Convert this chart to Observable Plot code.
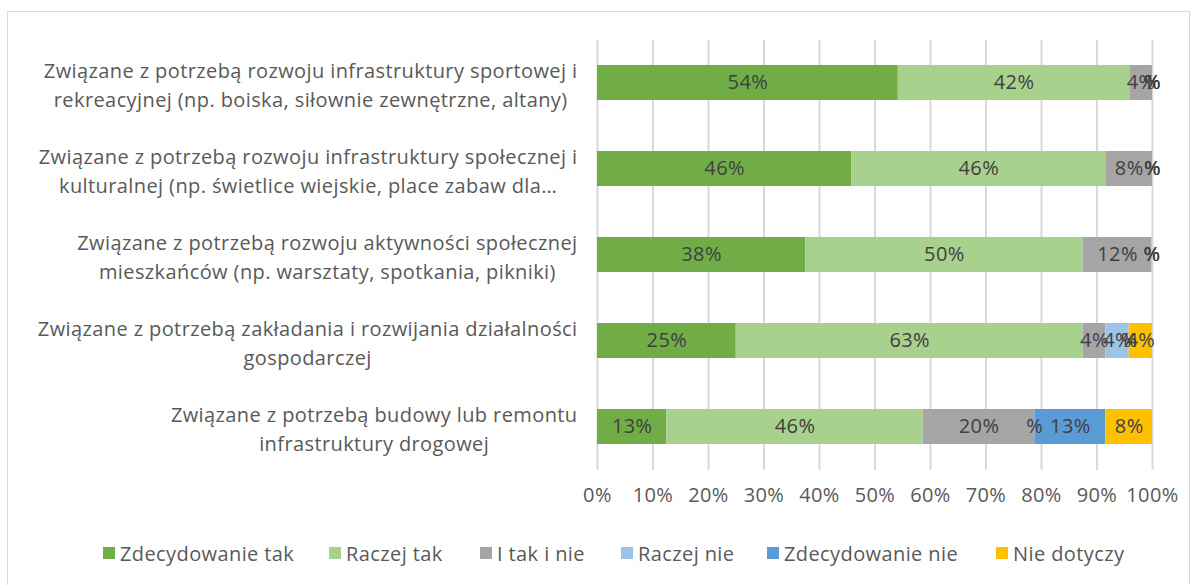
<!DOCTYPE html>
<html><head><meta charset="utf-8">
<script src="https://cdn.jsdelivr.net/npm/d3@7"></script>
<script src="https://cdn.jsdelivr.net/npm/@observablehq/plot@0.6"></script>
<style>
body{margin:0;background:#fff;font-family:"Open Sans",sans-serif;}
#frame{position:absolute;left:7px;top:11px;width:1183px;height:590px;border:1px solid #d9d9d9;box-sizing:border-box;}
#chart{position:absolute;left:0;top:0;}
#chart svg text{letter-spacing:0.4px;}
#legend{position:absolute;top:541px;left:0;width:1191px;height:24px;font-size:20px;letter-spacing:0.4px;color:#595959;white-space:nowrap;}
#legend .item{position:absolute;top:0;display:flex;align-items:center;height:24px;}
#legend .sw{width:12px;height:12px;margin-right:5px;}
</style></head>
<body>
<div id="frame"></div>
<div id="chart"></div>
<div id="legend"></div>
<script>
const categories = [
  "Związane z potrzebą rozwoju infrastruktury sportowej i\nrekreacyjnej (np. boiska, siłownie zewnętrzne, altany)",
  "Związane z potrzebą rozwoju infrastruktury społecznej i\nkulturalnej (np. świetlice wiejskie, place zabaw dla…",
  "Związane z potrzebą rozwoju aktywności społecznej\nmieszkańców (np. warsztaty, spotkania, pikniki)",
  "Związane z potrzebą zakładania i rozwijania działalności\ngospodarczej",
  "Związane z potrzebą budowy lub remontu\ninfrastruktury drogowej"
];
const series = ["Zdecydowanie tak","Raczej tak","I tak i nie","Raczej nie","Zdecydowanie nie","Nie dotyczy"];
const colors = ["#70AD47","#A9D18E","#A5A5A5","#9DC3E6","#5B9BD5","#FFC000"];
const zdecydowanieTak = [54.2, 45.8, 37.5, 25.0, 12.5];
const raczejTak       = [41.7, 45.8, 50.0, 62.5, 46.2];
const iTakINie        = [4.1, 8.4, 12.4, 4.1, 20.1];
const raczejNie       = [0, 0, 0, 4.2, 0];
const zdecydowanieNie = [0, 0, 0, 0, 12.8];
const nieDotyczy      = [0, 0, 0, 4.2, 8.4];
const xTicks = [0,10,20,30,40,50,60,70,80,90,100];

const seriesValues = [zdecydowanieTak, raczejTak, iTakINie, raczejNie, zdecydowanieNie, nieDotyczy];
const data = [];
series.forEach((s, si) => categories.forEach((c, ci) => data.push({series: s, category: c, value: seriesValues[si][ci]})));
const fmt = v => v > 0 ? Math.round(v) + "%" : "%";
const FONT = "'Open Sans',sans-serif";

const plot = Plot.plot({
  width: 1191, height: 520,
  marginLeft: 597, marginRight: 39, marginTop: 40, marginBottom: 50,
  style: {fontFamily: FONT, fontSize: "20px", color: "#595959", background: "transparent", overflow: "visible"},
  x: {domain: [0, 100], label: null},
  y: {domain: categories, paddingInner: 0.59, paddingOuter: 0.295, label: null},
  color: {domain: series, range: colors},
  marks: [
    Plot.gridX(xTicks, {stroke: "#d9d9d9", strokeOpacity: 1, strokeWidth: 2}),
    Plot.barX(data, Plot.stackX({x: "value", y: "category", fill: "series", z: "series"})),
    Plot.text(data, Plot.stackX({x: "value", y: "category", z: "series", text: d => fmt(d.value), fill: "#404040", fontSize: 20})),
    Plot.axisX(xTicks, {tickSize: 0, tickPadding: 17, tickFormat: d => d + "%", fontSize: 20, fill: "#595959", label: null}),
    Plot.axisY({tickSize: 0, tickPadding: 20, fontSize: 20, fill: "#595959", lineHeight: 1.45, label: null})
  ]
});
document.getElementById("chart").appendChild(plot);

// center the lines of each multi-line category label within its right-aligned block
d3.select(plot).selectAll('g[aria-label="y-axis tick label"] text').each(function() {
  const tspans = this.querySelectorAll("tspan");
  if (!tspans.length) return;
  let maxW = 0;
  tspans.forEach(t => { maxW = Math.max(maxW, t.getComputedTextLength()); });
  this.setAttribute("text-anchor", "middle");
  tspans.forEach(t => t.setAttribute("x", -maxW / 2));
});

const legendX = [103, 329, 480, 621, 767, 996];
const legend = d3.select("#legend");
series.forEach((s, i) => {
  const it = legend.append("div").attr("class", "item").style("left", legendX[i] + "px");
  it.append("div").attr("class", "sw").style("background", colors[i]);
  it.append("span").text(s);
});
</script>
</body></html>
